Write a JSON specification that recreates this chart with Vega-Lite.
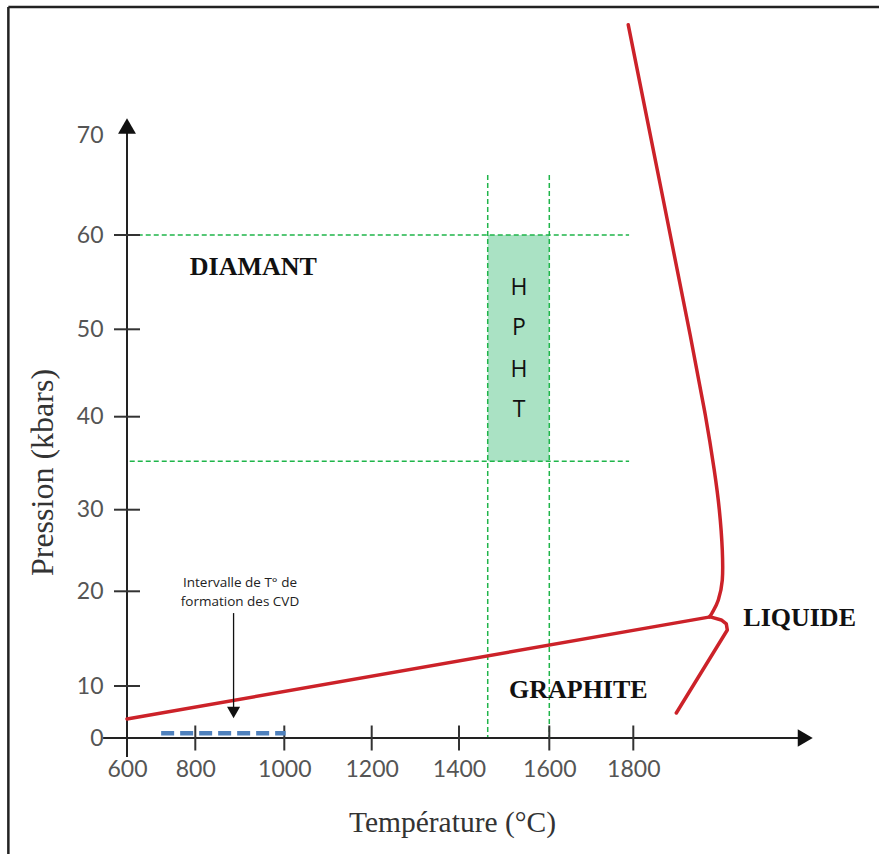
{
  "$schema": "https://vega.github.io/schema/vega-lite/v6.json",
  "width": 681,
  "height": 698,
  "autosize": {"type": "none"},
  "padding": {"left": 127, "top": 40, "right": 71, "bottom": 116},
  "background": "white",
  "config": {"view": {"stroke": null}},
  "datasets": {
    "frame": [
      {"T": 252.6, "P": 83.47, "T2": 2400, "P2": 83.47},
      {"T": 252.6, "P": 83.47, "T2": 252.6, "P2": -24}
    ],
    "hpht": [
      {"T": 1463.6, "P": 35.2, "T2": 1600, "P2": 60}
    ],
    "green": [
      {"T": 608, "P": 60, "T2": 1790, "P2": 60},
      {"T": 608, "P": 35.2, "T2": 1790, "P2": 35.2},
      {"T": 1463.6, "P": 66, "T2": 1463.6, "P2": 0},
      {"T": 1600, "P": 66, "T2": 1600, "P2": 0}
    ],
    "axes": [
      {"T": 530, "P": 0, "T2": 2180, "P2": 0},
      {"T": 600, "P": -3.65, "T2": 600, "P2": 70.5}
    ],
    "yticks": [
      {"T": 600, "P": 10}, {"T": 600, "P": 20}, {"T": 600, "P": 30},
      {"T": 600, "P": 40}, {"T": 600, "P": 50}, {"T": 600, "P": 60}
    ],
    "xticks": [
      {"T": 800, "P": 0}, {"T": 1000, "P": 0}, {"T": 1200, "P": 0},
      {"T": 1400, "P": 0}, {"T": 1600, "P": 0}, {"T": 1800, "P": 0}
    ],
    "arrowUp": [{"T": 600, "P": 70.95}],
    "arrowRight": [{"T": 2193, "P": 0}],
    "cvd": [{"T": 700, "P": 0.9, "T2": 1003, "P2": 0.9}],
    "pointer": [{"T": 886, "P": 17.7, "T2": 886, "P2": 5.6}],
    "pointerHead": [{"T": 886, "P": 4.9}],
    "liquid": [
      {"i": 0, "T": 1788, "P": 81.6},
      {"i": 1, "T": 1868.6, "P": 63.5},
      {"i": 2, "T": 1930, "P": 49.35},
      {"i": 3, "T": 1964.6, "P": 40.2},
      {"i": 4, "T": 1985, "P": 34.27},
      {"i": 5, "T": 1996.6, "P": 30.0},
      {"i": 6, "T": 2003.4, "P": 25.06},
      {"i": 7, "T": 2003.4, "P": 21.38},
      {"i": 8, "T": 1994.3, "P": 19.08},
      {"i": 9, "T": 1980, "P": 17.71},
      {"i": 10, "T": 1974, "P": 17.3}
    ],
    "boundary": [
      {"i": 0, "T": 600, "P": 3.65},
      {"i": 1, "T": 1976, "P": 17.3},
      {"i": 2, "T": 2001.1, "P": 16.97},
      {"i": 3, "T": 2012.6, "P": 16.55},
      {"i": 4, "T": 2014.9, "P": 15.91},
      {"i": 5, "T": 1898.3, "P": 4.81}
    ],
    "regions": [
      {"label": "DIAMANT", "T": 783.7, "P": 56.6},
      {"label": "GRAPHITE", "T": 1510.7, "P": 9.23},
      {"label": "LIQUIDE", "T": 2051.4, "P": 17.18}
    ],
    "letters": [
      {"label": "H", "T": 1532.9, "P": 54.38},
      {"label": "P", "T": 1532.9, "P": 50.14},
      {"label": "H", "T": 1532.9, "P": 45.34},
      {"label": "T", "T": 1532.9, "P": 40.77}
    ],
    "note": [
      {"label": "Intervalle de T° de", "T": 900.4, "P": 21.05},
      {"label": "formation des CVD", "T": 900.4, "P": 18.9}
    ]
  },
  "encoding": {
    "x": {
      "field": "T",
      "type": "quantitative",
      "scale": {
        "domain": [600, 800, 1000, 1200, 1400, 1600, 1800, 2200],
        "range": [0, 68.3, 157.3, 244.7, 332, 422.3, 506.3, 681.3],
        "nice": false,
        "zero": false
      },
      "axis": {
        "values": [600, 800, 1000, 1200, 1400, 1600, 1800],
        "format": "d",
        "domain": false,
        "ticks": false,
        "tickSize": 0,
        "grid": false,
        "labelFont": "Lato",
        "labelFontSize": 23,
        "labelColor": "#555555",
        "labelPadding": 20,
        "labelFlush": false,
        "labelOverlap": false,
        "title": "Température (°C)",
        "titleFont": "Liberation Serif",
        "titleFontSize": 29.5,
        "titleFontWeight": "normal",
        "titleColor": "#333333",
        "titleX": 325,
        "titleY": 93,
        "titleBaseline": "alphabetic",
        "titleAlign": "center"
      }
    },
    "y": {
      "field": "P",
      "type": "quantitative",
      "scale": {
        "domain": [0, 10, 20, 30, 40, 50, 60, 70, 80],
        "range": [698, 646, 551.3, 469.7, 376.7, 289.3, 195, 95, 0],
        "nice": false,
        "zero": false
      },
      "axis": {
        "values": [0, 10, 20, 30, 40, 50, 60, 70],
        "format": "d",
        "domain": false,
        "ticks": false,
        "tickSize": 0,
        "grid": false,
        "labelFont": "Lato",
        "labelFontSize": 23,
        "labelColor": "#555555",
        "labelPadding": 24,
        "labelFlush": false,
        "labelOverlap": false,
        "title": "Pression (kbars)",
        "titleFont": "Liberation Serif",
        "titleFontSize": 32,
        "titleFontWeight": "normal",
        "titleColor": "#333333",
        "titleAngle": 270,
        "titleX": -85,
        "titleY": 432,
        "titleBaseline": "middle",
        "titleAlign": "center"
      }
    }
  },
  "layer": [
    {
      "data": {"name": "frame"},
      "mark": {"type": "rule", "color": "#222222", "strokeWidth": 2.5},
      "encoding": {"x2": {"field": "T2"}, "y2": {"field": "P2"}}
    },
    {
      "data": {"name": "hpht"},
      "mark": {"type": "rect", "color": "#aae2c4", "opacity": 1},
      "encoding": {"x2": {"field": "T2"}, "y2": {"field": "P2"}}
    },
    {
      "data": {"name": "green"},
      "mark": {"type": "rule", "color": "#1fb54a", "strokeWidth": 1.5, "strokeDash": [5, 3]},
      "encoding": {"x2": {"field": "T2"}, "y2": {"field": "P2"}}
    },
    {
      "data": {"name": "axes"},
      "mark": {"type": "rule", "color": "#222222", "strokeWidth": 2},
      "encoding": {"x2": {"field": "T2"}, "y2": {"field": "P2"}}
    },
    {
      "data": {"name": "yticks"},
      "mark": {"type": "tick", "orient": "horizontal", "size": 26, "thickness": 2, "color": "#333333", "opacity": 1},
      "encoding": {}
    },
    {
      "data": {"name": "xticks"},
      "mark": {"type": "tick", "orient": "vertical", "size": 25, "thickness": 2, "color": "#333333", "opacity": 1},
      "encoding": {}
    },
    {
      "data": {"name": "arrowUp"},
      "mark": {"type": "point", "shape": "triangle-up", "filled": true, "size": 320, "color": "#111111", "opacity": 1},
      "encoding": {}
    },
    {
      "data": {"name": "arrowRight"},
      "mark": {"type": "point", "shape": "triangle-right", "filled": true, "size": 300, "color": "#111111", "opacity": 1},
      "encoding": {}
    },
    {
      "data": {"name": "cvd"},
      "mark": {"type": "rule", "color": "#4f81bd", "strokeWidth": 4.5, "strokeDash": [13, 6]},
      "encoding": {"x2": {"field": "T2"}, "y2": {"field": "P2"}}
    },
    {
      "data": {"name": "boundary"},
      "mark": {"type": "line", "color": "#cc2229", "strokeWidth": 3.5, "strokeJoin": "round", "strokeCap": "round"},
      "encoding": {"order": {"field": "i", "type": "quantitative"}}
    },
    {
      "data": {"name": "liquid"},
      "mark": {"type": "line", "color": "#cc2229", "strokeWidth": 3.5, "strokeJoin": "round", "strokeCap": "round", "interpolate": "cardinal"},
      "encoding": {"order": {"field": "i", "type": "quantitative"}}
    },
    {
      "data": {"name": "pointer"},
      "mark": {"type": "rule", "color": "#111111", "strokeWidth": 1.3},
      "encoding": {"x2": {"field": "T2"}, "y2": {"field": "P2"}}
    },
    {
      "data": {"name": "pointerHead"},
      "mark": {"type": "point", "shape": "triangle-down", "filled": true, "size": 170, "color": "#111111", "opacity": 1},
      "encoding": {}
    },
    {
      "data": {"name": "regions"},
      "mark": {"type": "text", "font": "Liberation Serif", "fontWeight": "bold", "fontSize": 26, "align": "left", "baseline": "middle", "color": "#111111"},
      "encoding": {"text": {"field": "label"}}
    },
    {
      "data": {"name": "letters"},
      "mark": {"type": "text", "font": "Open Sans", "fontSize": 23, "align": "center", "baseline": "middle", "color": "#111111"},
      "encoding": {"text": {"field": "label"}}
    },
    {
      "data": {"name": "note"},
      "mark": {"type": "text", "font": "Open Sans", "fontSize": 13.5, "align": "center", "baseline": "middle", "color": "#222222"},
      "encoding": {"text": {"field": "label"}}
    }
  ]
}
